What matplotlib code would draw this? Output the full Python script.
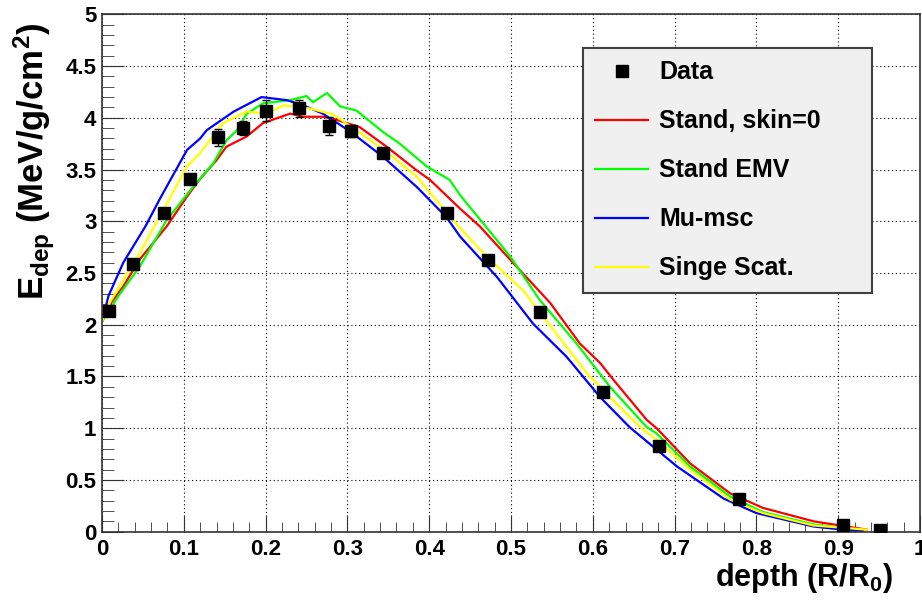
import numpy as np
import matplotlib
matplotlib.use("Agg")
import matplotlib.pyplot as plt
from matplotlib.ticker import MultipleLocator
from matplotlib.lines import Line2D

plt.rcParams['font.family'] = ['Liberation Sans', 'DejaVu Sans']
plt.rcParams['font.weight'] = 'bold'
plt.rcParams['mathtext.fontset'] = 'custom'
plt.rcParams['mathtext.rm'] = 'Liberation Sans:bold'
plt.rcParams['mathtext.it'] = 'Liberation Sans:bold'
plt.rcParams['mathtext.bf'] = 'Liberation Sans:bold'

# Datos medidos
data_x = [0.008, 0.038, 0.076, 0.108, 0.142, 0.172, 0.201, 0.241, 0.278, 0.305,
          0.343, 0.422, 0.472, 0.536, 0.613, 0.681, 0.779, 0.906, 0.951]
data_y = [2.13, 2.59, 3.08, 3.41, 3.81, 3.90, 4.07, 4.09, 3.92, 3.87,
          3.66, 3.08, 2.63, 2.12, 1.35, 0.83, 0.32, 0.065, 0.015]
data_err = [0.04, 0.04, 0.05, 0.05, 0.08, 0.07, 0.10, 0.08, 0.09, 0.06,
            0.05, 0.05, 0.04, 0.04, 0.03, 0.03, 0.02, 0.01, 0.01]

# Simulaciones
red_x = [0.0, 0.012, 0.026, 0.046, 0.079, 0.104, 0.120, 0.140, 0.152, 0.177, 0.197,
         0.230, 0.246, 0.270, 0.283, 0.315, 0.348, 0.385, 0.401, 0.438, 0.462,
         0.507, 0.548, 0.584, 0.609, 0.625, 0.666, 0.678, 0.719, 0.768, 0.808,
         0.870, 0.935]
red_y = [2.03, 2.22, 2.37, 2.63, 2.95, 3.24, 3.41, 3.59, 3.72, 3.82, 3.95,
         4.04, 4.01, 4.01, 3.99, 3.91, 3.72, 3.49, 3.40, 3.12, 2.95,
         2.56, 2.21, 1.82, 1.63, 1.47, 1.08, 1.00, 0.66, 0.37, 0.23,
         0.10, 0.02]

green_x = [0.0, 0.010, 0.022, 0.046, 0.079, 0.108, 0.136, 0.152, 0.165, 0.177, 0.197,
           0.230, 0.250, 0.258, 0.275, 0.291, 0.311, 0.344, 0.364, 0.397, 0.425,
           0.438, 0.466, 0.499, 0.535, 0.580, 0.621, 0.666, 0.678, 0.719, 0.768,
           0.808, 0.870, 0.923]
green_y = [2.03, 2.15, 2.30, 2.56, 3.01, 3.30, 3.56, 3.78, 3.88, 4.04, 4.14,
           4.17, 4.21, 4.15, 4.24, 4.11, 4.07, 3.86, 3.75, 3.53, 3.40,
           3.25, 2.98, 2.66, 2.24, 1.82, 1.40, 1.01, 0.95, 0.63, 0.34,
           0.19, 0.07, 0.02]

blue_x = [0.0, 0.008, 0.026, 0.053, 0.071, 0.104, 0.120, 0.128, 0.161, 0.195, 0.226,
          0.246, 0.270, 0.303, 0.344, 0.385, 0.421, 0.438, 0.483, 0.527, 0.568,
          0.609, 0.645, 0.703, 0.760, 0.800, 0.870, 0.910, 0.930]
blue_y = [2.03, 2.28, 2.60, 2.95, 3.22, 3.69, 3.80, 3.88, 4.06, 4.20, 4.17,
          4.12, 4.04, 3.87, 3.62, 3.33, 3.04, 2.85, 2.46, 2.01, 1.69,
          1.30, 1.01, 0.63, 0.32, 0.18, 0.05, 0.016, 0.01]

yellow_x = [0.0, 0.010, 0.026, 0.046, 0.075, 0.104, 0.120, 0.148, 0.177, 0.201, 0.222,
            0.254, 0.283, 0.311, 0.348, 0.385, 0.429, 0.470, 0.515, 0.552, 0.593,
            0.621, 0.658, 0.678, 0.719, 0.768, 0.808, 0.870, 0.935]
yellow_y = [2.03, 2.22, 2.43, 2.69, 3.11, 3.53, 3.66, 3.95, 4.06, 4.04, 4.12,
            4.09, 4.03, 3.88, 3.67, 3.43, 3.01, 2.66, 2.33, 1.95, 1.53,
            1.30, 1.01, 0.89, 0.60, 0.31, 0.18, 0.06, 0.02]

labels = ["Data", "Stand, skin=0", "Stand EMV", "Mu-msc", "Singe Scat."]

fig = plt.figure(figsize=(9.22, 6.01), dpi=100)
ax = fig.add_axes([102/922, (601-531.7)/601, 818/922, 517.4/601])

lw = 1.6
ax.plot(red_x, red_y, color='#ff0000', lw=lw)
ax.plot(green_x, green_y, color='#00ff00', lw=lw)
ax.plot(blue_x, blue_y, color='#0000ff', lw=lw)
ax.plot(yellow_x, yellow_y, color='#ffff00', lw=lw)
ax.errorbar(data_x, data_y, yerr=data_err, fmt='s', color='black', ms=8.5,
            ecolor='black', elinewidth=1, capsize=3, zorder=5)

ax.set_xlim(0, 1)
ax.set_ylim(0, 5)
ax.xaxis.set_minor_locator(MultipleLocator(0.02))
ax.yaxis.set_minor_locator(MultipleLocator(0.1))
ax.set_xticks(np.arange(0, 1.01, 0.1))
ax.set_xticklabels(["0", "0.1", "0.2", "0.3", "0.4", "0.5", "0.6", "0.7", "0.8", "0.9", "1"])
ax.set_yticks(np.arange(0, 5.01, 0.5))
ax.set_yticklabels(["0", "0.5", "1", "1.5", "2", "2.5", "3", "3.5", "4", "4.5", "5"])
ax.tick_params(axis='both', which='both', direction='in', top=False, right=False,
               labelsize=16, color='#333333')
ax.tick_params(axis='x', which='major', length=12, pad=5)
ax.tick_params(axis='x', which='minor', length=7)
ax.tick_params(axis='y', which='major', length=16, pad=4)
ax.tick_params(axis='y', which='minor', length=8.5)
for lab in ax.get_xticklabels() + ax.get_yticklabels():
    lab.set_fontweight('bold')
ax.grid(True, which='major', color='black', linestyle=(0, (1, 2.5)), lw=0.8)
for s in ax.spines.values():
    s.set_color('#333333')
    s.set_linewidth(1.2)

fig.text(893/922, 1-586/601, "depth (R/R$_{0}$)", ha='right', va='baseline', fontsize=22)
fig.text(34/922, 1-23/601, r"$E_{dep}$ (MeV/g/cm$^{2}$)", rotation=90,
         ha='center', va='top', fontsize=25)

handles = [Line2D([], [], marker='s', color='black', ls='none', ms=8),
           Line2D([], [], color='#ff0000', lw=lw),
           Line2D([], [], color='#00ff00', lw=lw),
           Line2D([], [], color='#0000ff', lw=lw),
           Line2D([], [], color='#ffff00', lw=lw)]
leg = ax.legend(handles, labels, loc='upper left',
                bbox_to_anchor=(0.588, 0.463, 0.353, 0.472), mode='expand',
                prop={'weight': 'bold', 'size': 18},
                fancybox=False, framealpha=1, facecolor='#f0f0f0',
                edgecolor='#404040', handlelength=2.1, handletextpad=0.45,
                labelspacing=1.0, borderpad=0.5, borderaxespad=0)
leg.get_frame().set_linewidth(1.5)

fig.savefig("out.png", dpi=100)
